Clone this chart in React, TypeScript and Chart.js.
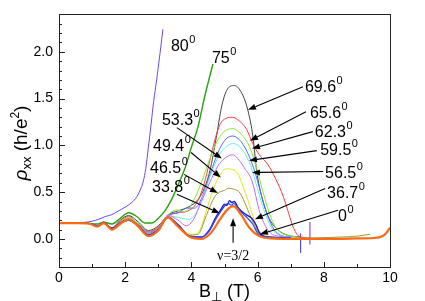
import React, { useEffect, useRef } from "react";
import { Chart, registerables } from "chart.js";
Chart.register(...registerables);

const SANS = '"Liberation Sans", Arial, Helvetica, sans-serif';
const SERIF = '"Liberation Serif", "Times New Roman", serif';

// ---- data: B (T) and rho_xx (h/e^2) for each tilt angle ----
const B80 = [0, 0.4, 0.8, 1.0, 1.2, 1.4, 1.6, 1.8, 2.0, 2.2, 2.35, 2.45, 2.55, 2.62, 2.7, 2.78, 2.86, 2.95, 3.05, 3.14];
const R80 = [0.175, 0.172, 0.178, 0.19, 0.21, 0.24, 0.26, 0.3, 0.34, 0.39, 0.45, 0.52, 0.62, 0.75, 0.98, 1.22, 1.47, 1.7, 1.98, 2.24];

const B75 = [0, 0.5, 0.9, 1.15, 1.35, 1.6, 1.85, 2.1, 2.35, 2.6, 2.8, 3.0, 3.2, 3.4, 3.6, 3.8, 4.0, 4.2, 4.4, 4.65];
const R75 = [0.17, 0.17, 0.165, 0.16, 0.18, 0.16, 0.22, 0.28, 0.24, 0.17, 0.17, 0.22, 0.3, 0.42, 0.58, 0.75, 0.98, 1.2, 1.52, 1.87];

const B69 = [0, 0.5, 0.9, 1.15, 1.35, 1.6, 1.85, 2.1, 2.4, 2.7, 3.0, 3.3, 3.6, 3.9, 4.2, 4.4, 4.56, 4.75, 4.91, 5.07, 5.3, 5.56, 5.71, 5.86, 5.97, 6.15, 6.35, 6.6, 6.9, 7.3];
const R69 = [0.17, 0.17, 0.165, 0.14, 0.18, 0.12, 0.2, 0.25, 0.18, 0.09, 0.14, 0.26, 0.3, 0.34, 0.42, 0.55, 0.73, 1.08, 1.41, 1.59, 1.64, 1.53, 1.37, 1.09, 0.73, 0.42, 0.22, 0.1, 0.04, 0.02];

const B65 = [0, 0.5, 0.9, 1.15, 1.35, 1.6, 1.85, 2.1, 2.4, 2.7, 3.0, 3.3, 3.6, 3.9, 4.15, 4.35, 4.5, 4.65, 4.86, 5.05, 5.23, 5.45, 5.67, 5.85, 6.05, 6.3, 6.55, 6.78, 6.95, 7.07, 7.25, 7.6];
const R65 = [0.17, 0.17, 0.165, 0.14, 0.18, 0.11, 0.19, 0.24, 0.16, 0.08, 0.13, 0.25, 0.28, 0.3, 0.38, 0.55, 0.75, 0.98, 1.22, 1.29, 1.3, 1.26, 1.17, 1.02, 0.9, 0.8, 0.64, 0.45, 0.26, 0.13, 0.03, 0.01];

const B62 = [0, 0.5, 0.9, 1.15, 1.35, 1.6, 1.85, 2.1, 2.4, 2.7, 3.0, 3.3, 3.56, 3.8, 4.05, 4.3, 4.55, 4.8, 5.0, 5.25, 5.5, 5.75, 5.95, 6.15, 6.35, 6.55, 6.8, 7.2];
const R62 = [0.17, 0.17, 0.165, 0.14, 0.175, 0.11, 0.18, 0.23, 0.16, 0.07, 0.12, 0.26, 0.31, 0.29, 0.4, 0.6, 0.85, 1.06, 1.15, 1.18, 1.12, 0.99, 0.78, 0.52, 0.28, 0.12, 0.05, 0.02];

const B59 = [0, 0.5, 0.9, 1.15, 1.35, 1.6, 1.85, 2.1, 2.4, 2.7, 3.0, 3.3, 3.6, 3.87, 4.1, 4.35, 4.6, 4.85, 5.05, 5.25, 5.5, 5.75, 5.95, 6.12, 6.3, 6.5, 6.7, 7.0];
const R59 = [0.17, 0.17, 0.165, 0.14, 0.175, 0.11, 0.18, 0.22, 0.15, 0.07, 0.12, 0.25, 0.28, 0.33, 0.33, 0.47, 0.73, 0.96, 1.07, 1.1, 1.04, 0.88, 0.68, 0.46, 0.25, 0.1, 0.04, 0.02];

const B56 = [0, 0.5, 0.9, 1.15, 1.35, 1.6, 1.85, 2.1, 2.4, 2.7, 3.0, 3.3, 3.6, 3.9, 4.15, 4.4, 4.65, 4.9, 5.1, 5.25, 5.5, 5.75, 5.9, 6.05, 6.25, 6.45, 6.65, 7.0];
const R56 = [0.17, 0.17, 0.165, 0.14, 0.175, 0.11, 0.18, 0.22, 0.15, 0.06, 0.12, 0.25, 0.23, 0.21, 0.28, 0.5, 0.75, 0.93, 1.0, 1.02, 0.97, 0.82, 0.66, 0.47, 0.25, 0.1, 0.04, 0.02];

const B53 = [0, 0.5, 0.9, 1.15, 1.35, 1.6, 1.85, 2.1, 2.4, 2.7, 3.0, 3.3, 3.6, 3.85, 4.05, 4.3, 4.55, 4.8, 5.0, 5.25, 5.4, 5.6, 5.83, 6.07, 6.3, 6.5, 7.0];
const R53 = [0.17, 0.17, 0.165, 0.14, 0.175, 0.11, 0.18, 0.21, 0.15, 0.06, 0.12, 0.25, 0.2, 0.14, 0.2, 0.4, 0.6, 0.78, 0.86, 0.9, 0.86, 0.76, 0.62, 0.28, 0.1, 0.04, 0.02];

const B49 = [0, 0.5, 0.9, 1.15, 1.35, 1.6, 1.85, 2.1, 2.4, 2.7, 3.0, 3.3, 3.6, 3.9, 4.1, 4.26, 4.45, 4.65, 4.86, 5.07, 5.25, 5.4, 5.67, 5.98, 6.2, 6.5, 7.0];
const R49 = [0.17, 0.17, 0.165, 0.14, 0.175, 0.11, 0.18, 0.21, 0.15, 0.05, 0.11, 0.24, 0.15, 0.06, 0.05, 0.1, 0.3, 0.52, 0.68, 0.75, 0.74, 0.7, 0.45, 0.13, 0.04, 0.02, 0.01];

const B46 = [0, 0.5, 0.9, 1.15, 1.35, 1.6, 1.85, 2.1, 2.4, 2.7, 3.0, 3.3, 3.6, 3.9, 4.2, 4.45, 4.7, 4.85, 5.0, 5.1, 5.3, 5.47, 5.67, 5.92, 6.16, 6.5, 7.5, 8.5, 9.0, 9.4];
const R46 = [0.17, 0.17, 0.165, 0.14, 0.175, 0.11, 0.18, 0.21, 0.15, 0.05, 0.11, 0.24, 0.14, 0.04, 0.05, 0.25, 0.45, 0.5, 0.52, 0.54, 0.53, 0.49, 0.34, 0.13, 0.02, 0.01, 0.01, 0.02, 0.03, 0.05];

const B36 = [0, 0.5, 0.9, 1.15, 1.35, 1.6, 1.85, 2.1, 2.4, 2.7, 3.0, 3.3, 3.6, 3.95, 4.3, 4.55, 4.75, 4.9, 5.0, 5.08, 5.15, 5.22, 5.3, 5.4, 5.5, 5.65, 5.83, 5.95, 6.05, 6.3, 7.0];
const R36 = [0.17, 0.17, 0.165, 0.14, 0.175, 0.11, 0.17, 0.2, 0.14, 0.04, 0.1, 0.23, 0.15, 0.03, 0.02, 0.1, 0.24, 0.32, 0.37, 0.36, 0.41, 0.39, 0.4, 0.34, 0.3, 0.26, 0.22, 0.15, 0.07, 0.02, 0.01];

const B33 = [0, 0.5, 0.9, 1.15, 1.35, 1.6, 1.85, 2.1, 2.4, 2.7, 3.0, 3.3, 3.6, 3.95, 4.3, 4.55, 4.75, 4.9, 5.02, 5.12, 5.2, 5.28, 5.4, 5.55, 5.7, 5.85, 6.0, 6.3, 7.0];
const R33 = [0.17, 0.17, 0.165, 0.14, 0.175, 0.11, 0.17, 0.2, 0.14, 0.04, 0.1, 0.23, 0.14, 0.03, 0.02, 0.09, 0.22, 0.3, 0.36, 0.38, 0.36, 0.38, 0.33, 0.27, 0.22, 0.16, 0.06, 0.02, 0.01];

const B0 = [0, 0.5, 0.9, 1.15, 1.35, 1.6, 1.85, 2.1, 2.4, 2.7, 3.0, 3.28, 3.6, 3.95, 4.3, 4.6, 4.85, 5.05, 5.26, 5.5, 5.75, 6.05, 6.4, 7.0, 8.0, 9.0, 9.5, 9.75, 9.88, 10.0];
const R0 = [0.17, 0.168, 0.165, 0.13, 0.17, 0.1, 0.16, 0.21, 0.13, 0.03, 0.09, 0.23, 0.13, 0.02, 0.0, 0.07, 0.2, 0.3, 0.35, 0.26, 0.12, 0.03, 0.005, 0.0, 0.0, 0.005, 0.01, 0.025, 0.06, 0.12];

const SPIKE1_B = [7.3, 7.3];
const SPIKE1_R = [-0.15, 0.06];
const SPIKE2_B = [7.58, 7.58];
const SPIKE2_R = [-0.06, 0.18];

// ticks
const X_MIN = 0, X_MAX = 10, Y_MIN = -0.3, Y_MAX = 2.4;

// annotations (data coordinates): text, B, rho of baseline-left
const LABELS: [string, number, number][] = [
  ["80", 3.38, 2.01],
  ["75", 4.62, 1.88],
  ["69.6", 7.43, 1.573],
  ["65.6", 7.58, 1.296],
  ["62.3", 7.73, 1.094],
  ["59.5", 7.89, 0.892],
  ["56.5", 8.04, 0.647],
  ["36.7", 8.1, 0.434],
  ["0", 8.43, 0.189],
  ["53.3", 3.11, 1.22],
  ["49.4", 2.84, 0.944],
  ["46.5", 2.75, 0.71],
  ["33.8", 2.81, 0.498],
];
// arrows: from (B, rho) to tip (B, rho)
const ARROWS: [number, number, number, number][] = [
  [7.37, 1.626, 5.71, 1.38],
  [7.46, 1.36, 5.77, 1.05],
  [7.67, 1.147, 5.83, 0.966],
  [7.79, 0.944, 5.74, 0.838],
  [7.98, 0.72, 5.83, 0.71],
  [8.04, 0.54, 5.92, 0.21],
  [8.43, 0.306, 6.07, 0.05],
  [3.56, 1.19, 4.92, 0.86],
  [3.99, 0.924, 4.89, 0.657],
  [3.78, 0.69, 4.8, 0.49],
  [3.56, 0.477, 4.86, 0.274],
  [5.26, -0.04, 5.26, 0.22],
];
const NU_LABEL: [string, number, number] = ["ν=3/2", 5.26, -0.225];

function pts(bs: number[], rs: number[]) {
  return bs.map((b, i) => ({ x: b, y: rs[i] }));
}

function ds(bs: number[], rs: number[], color: string, width: number, smooth = true) {
  return {
    data: pts(bs, rs),
    borderColor: color,
    backgroundColor: color,
    borderWidth: width,
    pointRadius: 0,
    fill: false,
    showLine: true,
    cubicInterpolationMode: smooth ? "monotone" : "default",
    tension: 0,
  } as any;
}

function isMult(v: number, step: number) {
  const q = v / step;
  return Math.abs(q - Math.round(q)) < 1e-6;
}

export default function App() {
  const ref = useRef<HTMLCanvasElement>(null);
  useEffect(() => {
    const canvas = ref.current!;
    const overlay = {
      id: "overlay",
      afterDraw(chart: any) {
        const ctx = chart.ctx as CanvasRenderingContext2D;
        const xs = chart.scales.x;
        const ys = chart.scales.y;
        const a = chart.chartArea;
        const px = (v: number) => xs.getPixelForValue(v);
        const py = (v: number) => ys.getPixelForValue(v);
        ctx.save();
        // frame
        ctx.strokeStyle = "#222";
        ctx.lineWidth = 1;
        ctx.strokeRect(Math.round(a.left) + 0.5, Math.round(a.top) + 0.5, Math.round(a.right - a.left), Math.round(a.bottom - a.top));
        // inward ticks
        ctx.beginPath();
        for (const t of xs.ticks) {
          const x = Math.round(px(t.value)) + 0.5;
          const len = isMult(t.value, 2) ? 5 : 3;
          ctx.moveTo(x, a.bottom);
          ctx.lineTo(x, a.bottom - len);
        }
        for (const t of ys.ticks) {
          const y = Math.round(py(t.value)) + 0.5;
          const len = isMult(t.value, 0.5) ? 6 : 3;
          ctx.moveTo(a.left, y);
          ctx.lineTo(a.left + len, y);
        }
        ctx.stroke();

        // labels with superscript 0
        ctx.fillStyle = "#000";
        ctx.textBaseline = "alphabetic";
        ctx.textAlign = "left";
        for (const [txt, b, r] of LABELS) {
          const x = px(b), y = py(r);
          ctx.font = `16px ${SANS}`;
          ctx.fillText(txt, x, y);
          const w = ctx.measureText(txt).width;
          ctx.font = `11px ${SANS}`;
          ctx.fillText("0", x + w + 0.5, y - 8);
        }
        // arrows
        ctx.strokeStyle = "#000";
        ctx.lineWidth = 1.1;
        for (const [b1, r1, b2, r2] of ARROWS) {
          const x1 = px(b1), y1 = py(r1), x2 = px(b2), y2 = py(r2);
          const ang = Math.atan2(y2 - y1, x2 - x1);
          const hl = 8, hw = 3;
          const bx = x2 - hl * Math.cos(ang), by = y2 - hl * Math.sin(ang);
          ctx.beginPath();
          ctx.moveTo(x1, y1);
          ctx.lineTo(bx, by);
          ctx.stroke();
          ctx.beginPath();
          ctx.moveTo(x2, y2);
          ctx.lineTo(bx + hw * Math.sin(ang), by - hw * Math.cos(ang));
          ctx.lineTo(bx - hw * Math.sin(ang), by + hw * Math.cos(ang));
          ctx.closePath();
          ctx.fill();
        }
        // nu label
        ctx.font = `14px ${SERIF}`;
        ctx.textAlign = "center";
        ctx.fillText(NU_LABEL[0], px(NU_LABEL[1]), py(NU_LABEL[2]));

        // x title
        const xParts: [string, string, number][] = [
          ["B", `18px ${SANS}`, 0],
          ["⊥", `13px ${SANS}`, 4],
          [" (T)", `18px ${SANS}`, 0],
        ];
        const drawParts = (parts: [string, string, number][], cx: number, cy: number) => {
          let total = 0;
          for (const [t, f] of parts) { ctx.font = f; total += ctx.measureText(t).width; }
          let x = cx - total / 2;
          ctx.textAlign = "left";
          for (const [t, f, dy] of parts) {
            ctx.font = f;
            ctx.fillText(t, x, cy + dy);
            x += ctx.measureText(t).width;
          }
        };
        drawParts(xParts, (a.left + a.right) / 2, 297);
        // y title
        ctx.save();
        ctx.translate(27, 143);
        ctx.rotate(-Math.PI / 2);
        drawParts([
          ["ρ", `italic 19px ${SANS}`, 0],
          ["xx", `13px ${SANS}`, 4],
          [" (h/e", `19px ${SANS}`, 0],
          ["2", `12px ${SANS}`, -8],
          [")", `19px ${SANS}`, 0],
        ], 0, 0);
        ctx.restore();
        ctx.restore();
      },
    };

    const chart = new Chart(canvas, {
      type: "line",
      data: {
        datasets: [
          ds(B0, R0, "#ff6a10", 2.2),
          ds(B33, R33, "#3344ff", 1.2),
          ds(B36, R36, "#1a1acc", 1.4),
          ds(B46, R46, "#9c9c3a", 1),
          ds(B49, R49, "#e6e61a", 1),
          ds(B53, R53, "#c266ff", 1),
          ds(B56, R56, "#66eeee", 1),
          ds(B59, R59, "#5a66ff", 1),
          ds(B62, R62, "#80ee33", 1),
          ds(B65, R65, "#ff3b3b", 1),
          ds(B69, R69, "#444444", 1),
          ds(B75, R75, "#2aa012", 1.4),
          ds(B80, R80, "#5f4cff", 1),
          ds(SPIKE1_B, SPIKE1_R, "#3333dd", 1, false),
          ds(SPIKE2_B, SPIKE2_R, "#a070ff", 1.5, false),
        ],
      },
      options: {
        responsive: false,
        animation: false,
        devicePixelRatio: 1,
        layout: { padding: { top: 13, right: 35, left: 0, bottom: 0 } },
        plugins: { legend: { display: false }, tooltip: { enabled: false } },
        scales: {
          x: {
            type: "linear",
            min: X_MIN,
            max: X_MAX,
            grid: { display: false, drawTicks: false },
            border: { display: false },
            ticks: {
              stepSize: 1,
              autoSkip: false,
              maxRotation: 0,
              padding: 3,
              color: "#000",
              font: { family: SANS, size: 14 },
              callback: (v: any) => (isMult(Number(v), 2) ? String(Math.round(Number(v))) : ""),
            },
            afterFit: (s: any) => { s.height = 34; },
          },
          y: {
            type: "linear",
            min: Y_MIN,
            max: Y_MAX,
            grid: { display: false, drawTicks: false },
            border: { display: false },
            ticks: {
              stepSize: 0.1,
              autoSkip: false,
              padding: 6,
              color: "#000",
              font: { family: SANS, size: 14 },
              callback: (v: any) => (isMult(Number(v), 0.5) ? Number(v).toFixed(1) : ""),
            },
            afterFit: (s: any) => { s.width = 59; },
          },
        },
      } as any,
      plugins: [overlay],
    });
    return () => chart.destroy();
  }, []);
  return (
    <div style={{ position: "fixed", left: 0, top: 0, width: 425, height: 301, background: "#fff" }}>
      <canvas ref={ref} width={425} height={301} />
    </div>
  );
}
